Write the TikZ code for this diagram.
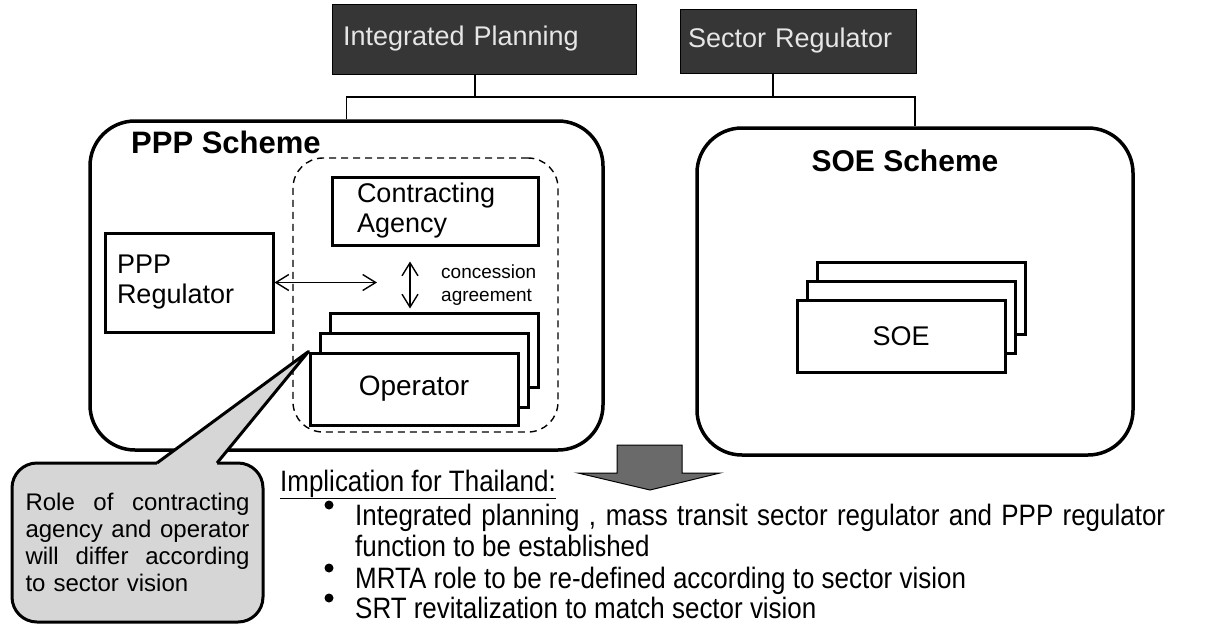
\documentclass[tikz,border=0pt]{standalone}
\usepackage{fontspec}
\setmainfont{Liberation Sans}
\newfontfamily\narrowf[FakeStretch=0.88]{Liberation Sans}
\usetikzlibrary{arrows.meta,calc}
\definecolor{topfill}{HTML}{363636}
\definecolor{toptext}{HTML}{E6E6E6}
\definecolor{notefill}{HTML}{D6D6D6}
\definecolor{arrowfill}{HTML}{6A6A6A}
\newcommand{\fsz}[2]{\fontsize{#1pt}{#2pt}\selectfont}
\begin{document}
\begin{tikzpicture}[x=1pt,y=-1pt,
  topbox/.style={draw=black, fill=topfill, text=toptext, line width=1pt, inner ysep=0pt, align=left, font=\fsz{27}{31}},
  scheme/.style={draw=black, line width=3.5pt, rounded corners=45pt},
  box/.style={draw=black, fill=white, line width=3pt, inner sep=0pt, font=\fsz{27}{30}},
  conn/.style={line width=1.5pt},
  dbl/.style={line width=1.4pt, {Straight Barb[length=13pt,width=16pt]}-{Straight Barb[length=13pt,width=16pt]}},
  txt/.style={font=\narrowf\fsz{29.5}{33}, anchor=base west, inner sep=0pt}]
\useasboundingbox (0,0) rectangle (1220,627);

% top boxes
\node[topbox, text width=282pt, inner xsep=11pt, minimum height=70pt] (IP) at (484,39) {Integrated Planning};
\node[topbox, text width=220pt, inner xsep=8pt, minimum height=64pt] (SR) at (798,41) {\mbox{Sector Regulator}};

% scheme frames
\node[scheme, minimum width=513pt, minimum height=329pt] (PPP) at (346.5,285.5) {};
\node[scheme, minimum width=436pt, minimum height=327pt] (SOE) at (915,291.5) {};
\node[draw, dash pattern=on 7pt off 5pt, line width=1.4pt, rounded corners=30pt, minimum width=265pt, minimum height=274pt] (grp) at (425.5,295) {};

% bus connectors
\coordinate (bus) at (0,97);
\draw[conn] (PPP.north) -- (PPP.north |- bus) -- (SOE.north |- bus) -- (SOE.north);
\draw[conn] (IP.south) ++(-9,0) -- ++(0,23);
\draw[conn] (SR.south) ++(-25,0) -- ++(0,24);

% titles
\node[font=\bfseries\fsz{31}{35}, anchor=base west, inner sep=1pt, fill=white] (pppt) at (130,153) {PPP Scheme};
\node[font=\bfseries\fsz{30}{34}, anchor=base, inner sep=0pt] (soet) at (905,171) {SOE Scheme};

% PPP contents
\node[box, minimum width=168pt, minimum height=99pt, text width=144pt, align=left] (PR) at (189,282.5) {PPP\\Regulator};
\node[box, minimum width=206pt, minimum height=68pt, text width=156pt, align=left] (CA) at (435,211) {Contracting\\Agency};
\node[box, minimum width=208pt, minimum height=74pt] (OP3) at (434,350) {};
\node[box, minimum width=208pt, minimum height=74pt] (OP2) at (424,370) {};
\node[box, minimum width=208pt, minimum height=72pt, font=\fsz{28}{32}] (OP1) at (414,389) {Operator};

\coordinate (hend) at (377,282.5);
\draw[dbl] (PR.east) -- (hend);
\draw[dbl] ($(CA.south)+(-25,15)$) -- ($(OP3.north)+(-24,-3)$);
\node[font=\fsz{19}{23}, align=left, anchor=west, inner sep=0pt] (conc) at (441,285) {concession\\agreement};

% SOE contents
\node[box, minimum width=208pt, minimum height=72pt] (S3) at (921,298.5) {};
\node[box, minimum width=208pt, minimum height=72pt] (S2) at (911,317.5) {};
\node[box, minimum width=208pt, minimum height=72pt] (S1) at (901,336) {SOE};

% down arrow
\draw[fill=arrowfill, line width=1pt, line join=miter] (617,445) -- (682,445) -- (682,473) -- (720,473) -- (650,490) -- (578,473) -- (617,473) -- cycle;

% callout
\node[draw, line width=3pt, fill=notefill, rounded corners=25pt, minimum width=251pt, minimum height=159pt, text width=224pt, inner sep=0pt, font=\fsz{24}{27}, align=left] (note) at (137.5,542.5)
 {\makebox[224pt][l]{Role\hfill of\hfill contracting}\\\makebox[224pt][l]{agency\hfill and\hfill operator}\\\makebox[224pt][l]{will\hfill differ\hfill according}\\to sector vision};
\fill[notefill] ($(note.north)+(19.5,1.5)$) -- (OP1.north west) -- ($(note.north)+(79.5,1.5)$) -- ($(note.north)+(79.5,6)$) -- ($(note.north)+(19.5,6)$) -- cycle;
\draw[line width=3pt, line join=round] ($(note.north)+(19.5,1.5)$) -- (OP1.north west) -- ($(note.north)+(79.5,1.5)$);

% implication text
\node[txt] (impl) at (280,491) {\underline{Implication for Thailand:}};
\node[txt] (b1) at (355,525) {\makebox[810pt][s]{Integrated planning , mass transit sector regulator and PPP regulator}};
\node[txt] (b1b) at (355,556) {function to be established};
\node[txt] (b2) at (355,588) {MRTA role to be re-defined according to sector vision};
\node[txt] (b3) at (355,618) {SRT revitalization to match sector vision};
\fill (329,505) circle (4.5pt);
\fill (329,568) circle (4.5pt);
\fill (329,598) circle (4.5pt);
\end{tikzpicture}
\end{document}
